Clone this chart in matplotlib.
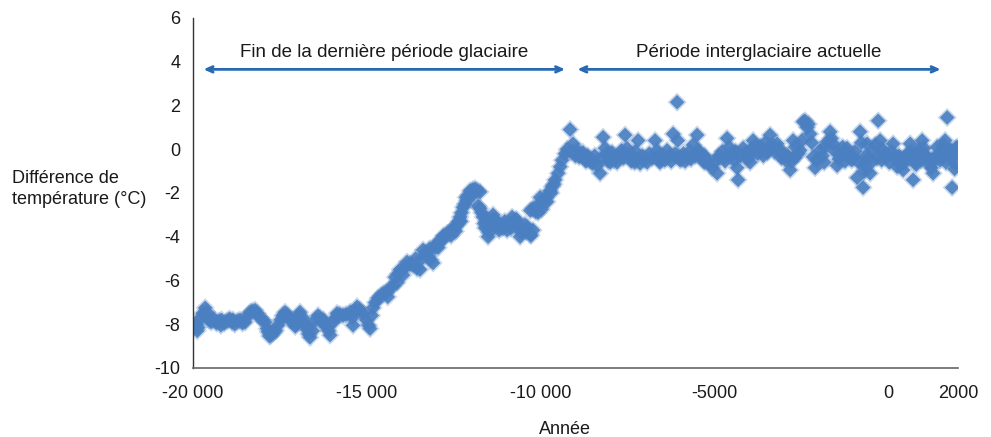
#!/usr/bin/env python3

import matplotlib
matplotlib.use('Agg')
import matplotlib.pyplot as plt

plt.rcParams['font.family'] = ['Liberation Sans', 'DejaVu Sans']
plt.rcParams['axes.unicode_minus'] = False

# fin de la derniere periode glaciaire (plateau)
annee_a = [-19960, -19900, -19850, -19780, -19720, -19650, -19600, -19540, -19480, -19400,
           -19330, -19250, -19180, -19100, -19020, -18950, -18880, -18800, -18720, -18650,
           -18580, -18500, -18400, -18300, -18217, -18150, -18073, -18000, -17929, -17870,
           -17843, -17760, -17699, -17620, -17555, -17480, -17420, -17354, -17280, -17210,
           -17130, -17060, -17009, -16960, -16923, -16850, -16780, -16721, -16680, -16635,
           -16560, -16480, -16405, -16340, -16290, -16210, -16146, -16100, -16060, -15960,
           -15859, -15780, -15686, -15600, -15485, -15420, -15398, -15340, -15283, -15200,
           -15111, -15020, -14950, -14909, -14860, -14823, -14760, -14679, -14600, -14536,
           -19880, -19560, -19200, -18850, -18350, -17800, -17060, -16700, -16250, -15900]
temp_a = [-8.1, -8.0, -8.15, -7.7, -7.5, -7.25, -7.45, -7.8, -7.9, -7.75,
          -7.95, -7.85, -7.8, -7.95, -7.85, -7.75, -7.9, -8.0, -7.85, -7.8,
          -7.95, -7.9, -7.55, -7.4, -7.35, -7.5, -7.7, -7.8, -7.9, -8.2,
          -8.35, -8.5, -8.4, -8.3, -8.05, -7.8, -7.6, -7.45, -7.6, -7.8,
          -7.9, -7.95, -7.95, -7.6, -7.45, -7.7, -8.0, -8.25, -8.45, -8.6,
          -8.3, -7.8, -7.6, -7.75, -7.9, -8.0, -8.1, -8.3, -8.5, -7.9,
          -7.5, -7.55, -7.6, -7.55, -7.45, -7.7, -8.05, -7.4, -7.2, -7.35,
          -7.5, -7.8, -8.05, -8.2, -7.6, -7.25, -7.0, -6.8, -6.7, -6.6,
          -8.3, -7.65, -8.05, -7.8, -7.45, -8.55, -8.1, -8.1, -7.8, -7.7]

# rechauffement
annee_b = [-14450, -14334, -14250, -14190, -14133, -14047, -13960, -13846, -13760, -13673,
           -13560, -13472, -13386, -13310, -13242, -13170, -13098, -13040, -12983, -12910,
           -12839, -12760, -12695, -12620, -12551, -12480, -12407, -12360, -12321, -12280,
           -12235, -12180, -12120, -12080, -12034, -11960, -11890, -11820, -11746, -11746,
           -11700, -11660, -11602, -11560, -11516, -11450, -11372, -11320, -11257, -11180,
           -11113, -11040, -10969, -10900, -10825, -10750, -10682, -10595, -10520, -10452,
           -10380, -10308, -10222, -10222, -10150, -10078, -10020, -9920, -9819, -9740,
           -9675, -9589, -9503, -9440, -9388, -9300, -9244,
           -14400, -14100, -13900, -13600, -13420, -13200, -12950, -12800, -12580, -12450,
           -12300, -12150, -11930, -11800, -11630, -11480, -11400, -11200, -11060, -10860,
           -10700, -10560, -10420, -10280, -10300, -10050, -9980, -9860, -9700, -9620]
temp_b = [-6.55, -6.35, -6.25, -5.85, -6.1, -5.5, -5.75, -5.15, -5.25, -5.3,
          -5.45, -5.5, -4.6, -4.75, -4.9, -5.05, -5.2, -4.5, -4.3, -4.2,
          -4.15, -4.0, -3.85, -3.8, -3.7, -3.55, -3.45, -3.3, -3.1, -2.9,
          -2.65, -2.5, -2.35, -2.1, -1.9, -1.85, -1.8, -1.9, -1.95, -2.7,
          -2.9, -3.1, -3.6, -3.3, -4.0, -3.5, -3.0, -3.2, -3.4, -3.5,
          -3.6, -3.3, -3.7, -3.4, -3.1, -3.3, -3.45, -4.0, -3.7, -3.45,
          -3.6, -3.9, -3.7, -2.7, -2.85, -2.9, -2.2, -2.45, -2.4, -1.9,
          -1.7, -1.4, -1.1, -0.8, -0.5, -0.2, 0.0,
          -6.75, -5.7, -5.4, -5.0, -5.0, -4.55, -4.5, -3.95, -3.95, -3.75,
          -3.3, -2.2, -2.05, -2.6, -3.4, -3.8, -3.25, -3.7, -3.55, -3.6,
          -3.2, -3.8, -3.75, -3.95, -2.8, -2.5, -2.75, -2.2, -2.0, -1.6]

# periode interglaciaire actuelle
annee_c = [-9158, -9120, -9071, -9010, -8956, -8900, -8850, -8784, -8720, -8650,
           -8582, -8520, -8450, -8380, -8295, -8250, -8208, -8151, -8100, -8060,
           -8007, -7950, -7880, -7806, -7740, -7680, -7620, -7576, -7518, -7460,
           -7400, -7346, -7280, -7202, -7144, -7080, -7010, -6943, -6880, -6800,
           -6713, -6655, -6610, -6569, -6500, -6430, -6368, -6300, -6250, -6195,
           -6130, -6080, -6060, -6030, -5994, -5900, -5850, -5793, -5720, -5680,
           -5620, -5560, -5505, -5460, -5419, -5350, -5290, -5218, -5150, -5074,
           -5000, -4930, -4880, -4844, -4780, -4720, -4643, -4580, -4540, -4499,
           -4440, -4400, -4355, -4326, -4260, -4182, -4120, -4050, -3980, -3940,
           -3894, -3830, -3760, -3693, -3620, -3550, -3480, -3405, -3340, -3280,
           -3204, -3140, -3080, -3031, -2960, -2900, -2830, -2790, -2744, -2680,
           -2600, -2540, -2490, -2456, -2400, -2341, -2300, -2255, -2210, -2169,
           -2111, -2050, -1967, -1900, -1830, -1760, -1680, -1640, -1594, -1540,
           -1479, -1430, -1393, -1320, -1260, -1192, -1120, -1060, -1020, -960,
           -904, -860, -818, -780, -731, -690, -650, -616, -570, -530,
           -490, -443, -380, -330, -299, -242, -180, -110, -40, 20,
           80, 132, 190, 247, 300, 360, 420, 480, 540, 580,
           621, 660, 707, 760, 822, 880, 930, 966, 1020, 1060,
           1109, 1180, 1230, 1282, 1340, 1397, 1440, 1483, 1540, 1580,
           1627, 1685, 1720, 1771, 1800, 1829, 1870, 1915, 1940, 1972,
           -8700, -8000, -7300, -6600, -5950, -5300, -4700, -4000, -3600, -3000,
           -2700, -1850, -1250, -700, -200, 300, 800, 1250, 1650, 1900]
temp_c = [0.9, -0.1, 0.25, -0.3, -0.05, -0.35, -0.2, -0.15, -0.45, -0.3,
          -0.5, -0.65, -0.3, -0.75, -1.1, -0.4, 0.55, 0.05, -0.2, -0.55,
          -0.35, -0.15, -0.5, -0.6, -0.3, -0.05, -0.4, 0.65, 0.05, -0.25,
          -0.55, -0.35, -0.1, 0.4, -0.65, -0.3, -0.45, -0.6, -0.2, -0.4,
          0.4, -0.05, -0.3, -0.6, -0.35, -0.5, -0.05, -0.3, -0.55, 0.7,
          -0.2, 2.15, 0.4, -0.35, -0.5, -0.2, -0.55, -0.35, -0.1, -0.45,
          0.2, -0.3, 0.65, -0.05, -0.2, -0.45, -0.3, -0.5, -0.7, -0.85,
          -0.6, -1.1, -0.3, -0.35, -0.1, -0.4, 0.5, 0.1, -0.3, -0.2,
          -0.5, -0.1, -0.85, -1.4, -0.3, 0.05, -0.2, -0.45, -0.6, 0.0,
          0.4, 0.15, -0.2, 0.1, -0.05, 0.3, -0.15, 0.65, 0.2, -0.1,
          0.25, 0.0, -0.4, -0.2, -0.5, -0.3, -0.95, -0.55, 0.4, 0.1,
          -0.2, -0.05, 0.4, 1.25, 1.3, 1.0, 1.15, 0.7, 0.3, -0.35,
          -0.85, -0.5, -0.05, -0.3, 0.1, 0.35, 0.8, 0.5, 0.25, -0.1,
          -0.75, -0.45, -0.2, 0.1, -0.15, 0.05, -0.25, -0.5, -0.35, -0.1,
          -1.3, -0.6, 0.8, 0.3, -1.75, -1.0, -0.3, 0.25, -0.4, -1.1,
          -0.6, -0.05, 0.2, -0.4, 1.3, 0.4, 0.0, -0.2, -0.35, -0.6,
          -0.1, 0.25, -0.35, -0.8, -0.5, -0.7, -0.95, -0.55, -0.2, -0.4,
          0.25, -0.1, -1.4, -0.6, -0.2, 0.0, -0.5, 0.4, 0.05, -0.3,
          -0.35, -0.7, -0.85, -1.1, -0.45, 0.1, -0.2, -0.5, -0.1, 0.2,
          0.4, 1.45, 0.0, -0.05, -0.4, -1.75, -0.3, -0.65, 0.05, 0.1,
          -0.55, -0.6, -0.6, -0.5, -0.45, -0.6, -0.55, -0.3, -0.3, -0.25,
          -0.4, -0.6, -0.55, -0.7, -0.5, -0.3, -0.7, -0.5, -0.6, -0.9]

xticks = [-20000, -15000, -10000, -5000, 0, 2000]
xtick_labels = ['-20 000', '-15 000', '-10 000', '-5000', '0', '2000']
yticks = [6, 4, 2, 0, -2, -4, -6, -8, -10]

periodes = [('Fin de la dernière période glaciaire', -19700, -9300),
            ('Période interglaciaire actuelle', -8950, 1500)]

annee = annee_a + annee_b + annee_c
temp = temp_a + temp_b + temp_c

blue = '#4a7fc1'
arrow_blue = '#2769b3'
txt = '#1a1a1a'

fig = plt.figure(figsize=(9.91, 4.37), dpi=100)
ax = fig.add_axes([0.1948, 0.1579, 0.772, 0.801])

# halo + coeur pour imiter les losanges flous
ax.scatter(annee, temp, marker='D', s=95, color=blue, alpha=0.3, edgecolors='none')
ax.scatter(annee, temp, marker='D', s=55, color=blue, alpha=0.9, edgecolors='none')

ax.set_xlim(-20000, 2000)
ax.set_ylim(-10, 6)
ax.set_xticks(xticks)
ax.set_xticklabels(xtick_labels)
ax.set_yticks(yticks)
ax.set_yticklabels([str(v) for v in yticks])
ax.tick_params(length=0, labelsize=13, colors=txt)
ax.tick_params(axis='x', pad=12)
ax.tick_params(axis='y', pad=9)

for s in ['top', 'right']:
    ax.spines[s].set_visible(False)
ax.spines['left'].set_color('#333333')
ax.spines['bottom'].set_color('#666666')
ax.spines['left'].set_linewidth(1)
ax.spines['bottom'].set_linewidth(1.2)

for label, x0, x1 in periodes:
    ax.annotate('', xy=(x1, 3.65), xytext=(x0, 3.65),
                arrowprops=dict(arrowstyle='<->,head_length=0.45,head_width=0.2',
                                color=arrow_blue, lw=2, shrinkA=0, shrinkB=0))
    ax.text((x0 + x1) / 2, 4.43, label, ha='center', va='center',
            fontsize=13.5, color=txt)

fig.text(12 / 991, 1 - 189 / 437, 'Différence de\ntempérature (°C)',
         ha='left', va='center', fontsize=13, color=txt, linespacing=1.35)
fig.text(565 / 991, 1 - 430 / 437, 'Année', ha='center', va='center',
         fontsize=13, color=txt)

fig.savefig('out.png', dpi=100)
